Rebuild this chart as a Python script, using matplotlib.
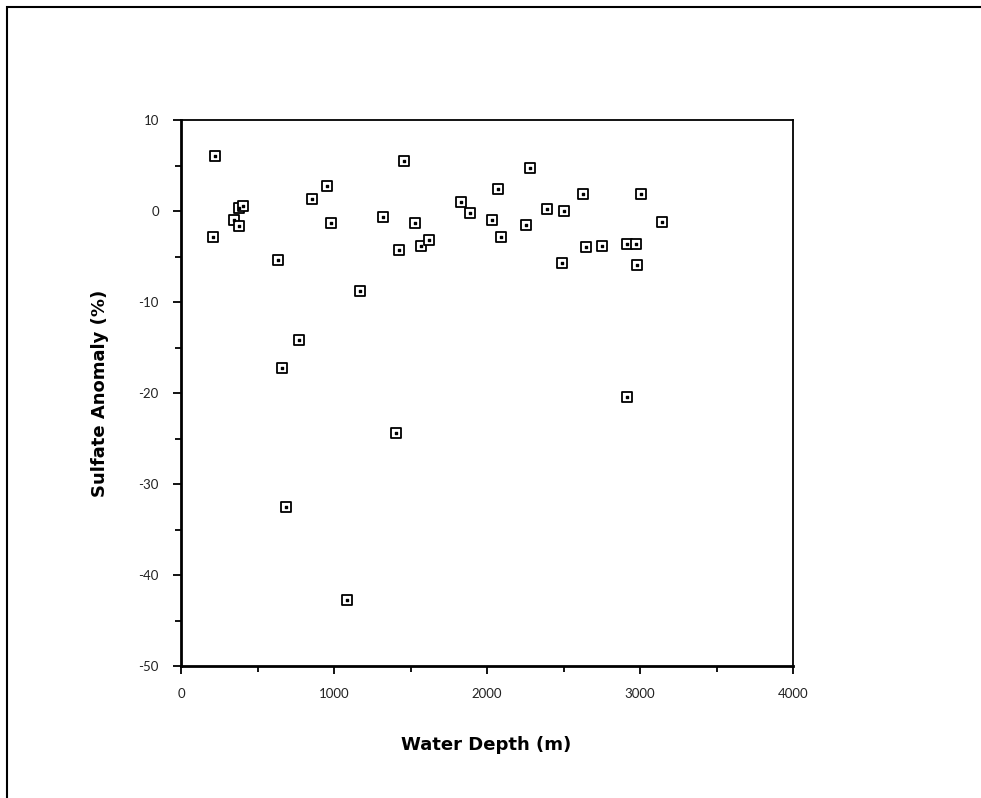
import numpy as np
import matplotlib.pyplot as plt
from matplotlib.patches import Rectangle
from matplotlib.ticker import MultipleLocator

# water depth (m) and sulfate anomaly (%)
depth = [224, 209, 346, 379, 379, 405, 634, 858, 952, 982,
         662, 769, 684, 1087, 1168, 1322, 1425, 1455, 1405, 1529,
         1571, 1621, 1828, 1889, 2031, 2074, 2092, 2257, 2279, 2392,
         2488, 2505, 2627, 2649, 2750, 2917, 2917, 2972, 2980, 3009,
         3144]
anomaly = [6.0, -2.9, -1.0, -1.65, 0.33, 0.55, -5.4, 1.35, 2.78, -1.35,
           -17.3, -14.2, -32.5, -42.7, -8.8, -0.66, -4.3, 5.5, -24.4, -1.35,
           -3.8, -3.2, 1.0, -0.2, -1.0, 2.4, -2.9, -1.5, 4.7, 0.18,
           -5.7, 0.0, 1.87, -3.95, -3.8, -20.4, -3.6, -3.6, -5.9, 1.87,
           -1.2]

plt.rcParams['font.family'] = ['Lato', 'DejaVu Sans']
plt.rcParams['axes.unicode_minus'] = False

fig = plt.figure(figsize=(9.81, 7.98), dpi=100)
# outer frame (only left and top edges are visible in the original)
fig.patches.append(Rectangle((7 / 981, -0.1), 1.2, 1.1 - 7 / 798,
                             transform=fig.transFigure, fill=False,
                             edgecolor='black', linewidth=1.5))

ax = fig.add_axes([0.1845, 0.1654, 0.6239, 0.6842])
ax.scatter(depth, anomaly, marker='s', s=42, facecolors='white',
           edgecolors='black', linewidths=1.3, zorder=3)
ax.scatter(depth, anomaly, marker='s', s=1.5, color='black', zorder=4)

ax.set_xlim(0, 4000)
ax.set_ylim(-50, 10)
ax.xaxis.set_major_locator(MultipleLocator(1000))
ax.xaxis.set_minor_locator(MultipleLocator(500))
ax.yaxis.set_major_locator(MultipleLocator(10))
ax.yaxis.set_minor_locator(MultipleLocator(5))
ax.tick_params(which='both', direction='out', top=False, right=False,
               width=1.3, labelsize=9.5, labelcolor='#222222')
ax.tick_params(which='major', length=6, pad=10)
ax.tick_params(which='minor', length=4)

for side in ['left', 'bottom']:
    ax.spines[side].set_linewidth(2.0)
for side in ['top', 'right']:
    ax.spines[side].set_linewidth(1.3)

fig.text(486 / 981, 1 - 745 / 798, 'Water Depth (m)', ha='center',
         va='center', fontsize=13, fontweight='bold', family='DejaVu Sans')
fig.text(100 / 981, 1 - 393 / 798, 'Sulfate Anomaly (%)', ha='center',
         va='center', rotation=90, fontsize=13, fontweight='bold',
         family='DejaVu Sans')

fig.savefig('out.png', dpi=100)
